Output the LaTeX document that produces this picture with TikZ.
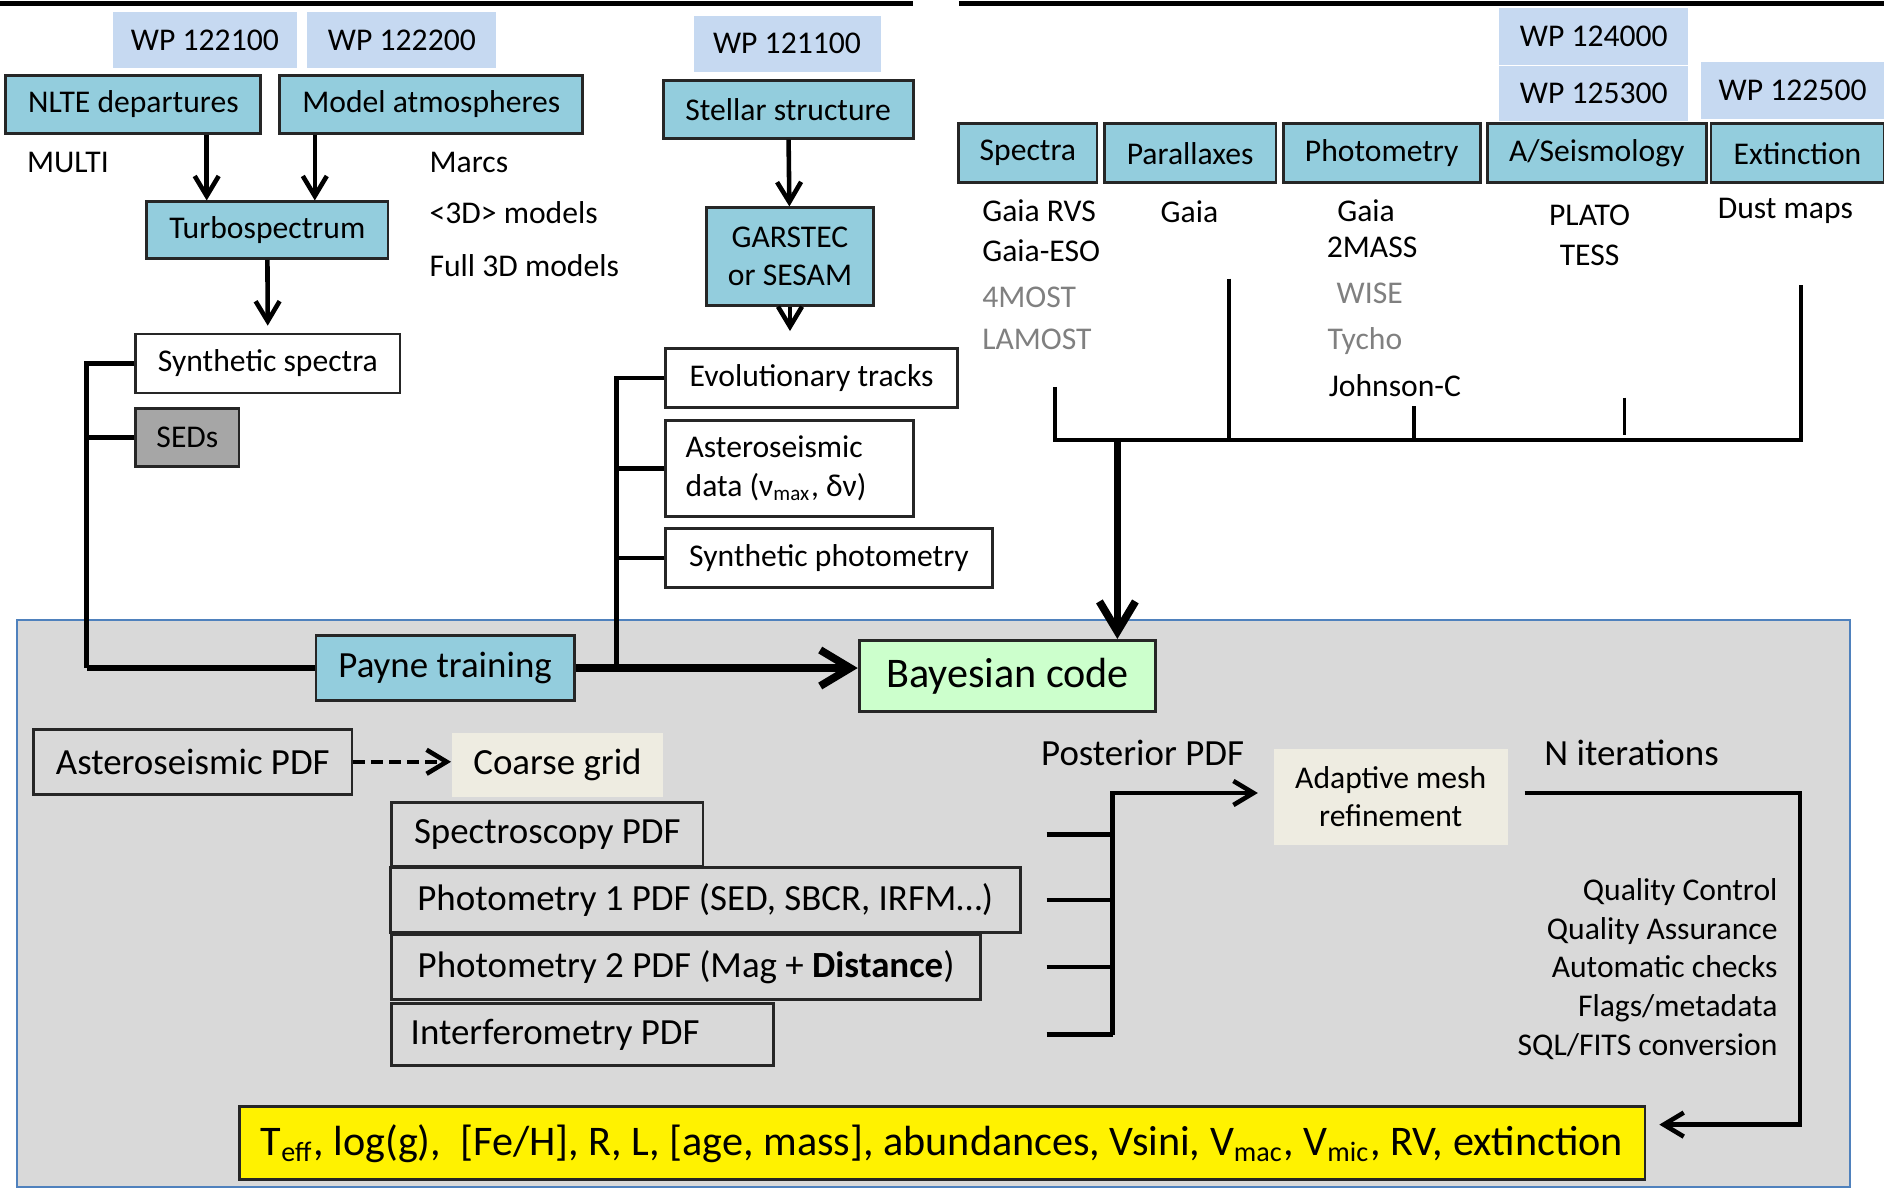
\documentclass[tikz,border=0pt]{standalone}
\usepackage{fontspec}
\setmainfont{Carlito}
\usetikzlibrary{arrows.meta}

\definecolor{wpazul}{HTML}{C6D9F1}
\definecolor{aqua}{HTML}{93CDDD}
\definecolor{gris}{HTML}{A6A6A6}
\definecolor{fondo}{HTML}{D9D9D9}
\definecolor{borde}{HTML}{4F81BD}
\definecolor{verde}{HTML}{CCFFCC}
\definecolor{crema}{HTML}{EEECE1}
\definecolor{textogris}{HTML}{808080}

\newcommand{\fchica}{\fontsize{9}{11}\selectfont}
\newcommand{\fmedia}{\fontsize{10.5}{12.6}\selectfont}
\newcommand{\fgrande}{\fontsize{12}{14.4}\selectfont}

\tikzset{
  wp/.style={fill=wpazul, inner sep=0pt, font=\fchica},
  caja/.style={draw=black!85, line width=0.8pt, inner sep=0pt, font=\fchica},
  azul/.style={caja, fill=aqua},
  blanca/.style={caja, fill=white},
  pdf/.style={caja, font=\fmedia},
  crem/.style={fill=crema, inner sep=0pt},
  etiq/.style={inner sep=0pt, font=\fchica},
  flecha/.style={line width=1.3pt, -{Straight Barb[length=2mm, width=2.4mm]}},
  gruesa/.style={line width=2.2pt, -{Straight Barb[length=3mm, width=3.6mm]}},
  linea/.style={line width=1.3pt},
}

\begin{document}
\begin{tikzpicture}
            \useasboundingbox (0,0) rectangle (18.84,-11.89);

            % Lineas superiores
            \draw[line width=1.4pt] (0,-0.036) -- (9.131,-0.036);
            \draw[line width=1.4pt] (9.588,-0.036) -- (18.84,-0.036);

            % Paquetes de trabajo (WP)
            \node[wp, minimum width=1.84cm, minimum height=0.565cm] (wp1) at (2.049,-0.402) {WP 122100};
            \node[wp, minimum width=1.89cm, minimum height=0.565cm] (wp2) at (4.019,-0.402) {WP 122200};
            \node[wp, minimum width=1.87cm, minimum height=0.565cm] (wp3) at (7.870,-0.438) {WP 121100};
            \node[wp, minimum width=1.89cm, minimum height=0.565cm] (wp4) at (15.938,-0.366) {WP 124000};
            \node[wp, minimum width=1.89cm, minimum height=0.553cm] (wp5) at (15.938,-0.937) {WP 125300};
            \node[wp, minimum width=1.83cm, minimum height=0.565cm] (wp6) at (17.926,-0.907) {WP 122500};

            % Modelos (izquierda)
            \node[azul, minimum width=2.55cm, minimum height=0.577cm] (nlte) at (1.334,-1.045) {NLTE departures};
            \node[azul, minimum width=3.03cm, minimum height=0.577cm] (modatm) at (4.313,-1.045) {Model atmospheres};
            \node[azul, minimum width=2.415cm, minimum height=0.565cm] (turbo) at (2.673,-2.301) {Turbospectrum};
            \node[blanca, minimum width=2.643cm, minimum height=0.589cm] (synspec) at (2.679,-3.635) {Synthetic spectra};
            \node[caja, fill=gris, minimum width=1.033cm, minimum height=0.577cm] (seds) at (1.874,-4.373) {SEDs};

            \node[etiq, anchor=mid west] (multi) at (0.264,-1.646) {MULTI};
            \node[etiq, anchor=mid west] (marcs) at (4.289,-1.646) {Marcs};
            \node[etiq, anchor=mid west] (m3d) at (4.289,-2.151) {<3D> models};
            \node[etiq, anchor=mid west] (full3d) at (4.289,-2.679) {Full 3D models};

            % Flechas hacia Turbospectrum
            \coordinate (t1) at (2.067,0);
            \coordinate (t2) at (3.148,0);
            \draw[flecha] (t1 |- nlte.south) -- (t1 |- turbo.north);
            \draw[flecha] (t2 |- modatm.south) -- (t2 |- turbo.north);
            \draw[flecha, shorten >=0.07cm] (turbo) -- (synspec);

            % Estructura estelar (centro)
            \node[azul, minimum width=2.50cm, minimum height=0.577cm] (stellar) at (7.882,-1.093) {Stellar structure};
            \node[azul, minimum width=1.67cm, minimum height=0.973cm, align=center] (garstec) at (7.900,-2.565) {GARSTEC\\or SESAM};
            \node[blanca, minimum width=2.920cm, minimum height=0.589cm] (evol) at (8.116,-3.779) {Evolutionary tracks};
            \node[blanca, inner xsep=0.2cm, text width=2.075cm, minimum height=0.961cm, align=flush left] (astdata) at (7.894,-4.686) {Asteroseismic\\data (ν\textsubscript{max}, δν)};
            \node[blanca, minimum width=3.268cm, minimum height=0.589cm] (synphot) at (8.290,-5.581) {Synthetic photometry};

            \draw[flecha] (stellar) -- (garstec);
            \draw[flecha, shorten >=0.16cm] (garstec) -- (garstec.south |- evol.north);

            % Observaciones (derecha)
            \node[azul, minimum width=1.382cm, minimum height=0.589cm] (spectra) at (10.279,-1.532) {Spectra};
            \node[azul, minimum width=1.718cm, minimum height=0.589cm] (parallax) at (11.901,-1.532) {Parallaxes};
            \node[azul, minimum width=1.970cm, minimum height=0.589cm] (photom) at (13.817,-1.532) {Photometry};
            \node[azul, minimum width=2.187cm, minimum height=0.589cm] (aseis) at (15.968,-1.532) {A/Seismology};
            \node[azul, minimum width=1.730cm, minimum height=0.589cm] (extinc) at (17.975,-1.532) {Extinction};

            \node[etiq, anchor=mid west] (gaiarvs) at (9.816,-2.127) {Gaia RVS};
            \node[etiq, anchor=mid west] (gaiaeso) at (9.816,-2.535) {Gaia-ESO};
            \node[etiq, anchor=mid west, text=textogris] (fourmost) at (9.816,-2.992) {4MOST};
            \node[etiq, anchor=mid west, text=textogris] (lamost) at (9.816,-3.412) {LAMOST};
            \node[etiq, anchor=mid] (gaiapar) at (11.895,-2.139) {Gaia};
            \node[etiq, anchor=mid] (gaiaph) at (13.661,-2.127) {Gaia};
            \node[etiq, anchor=mid] (twomass) at (13.721,-2.487) {2MASS};
            \node[etiq, anchor=mid, text=textogris] (wise) at (13.697,-2.956) {WISE};
            \node[etiq, anchor=mid, text=textogris] (tycho) at (13.649,-3.412) {Tycho};
            \node[etiq, anchor=mid] (johnson) at (13.949,-3.881) {Johnson-C};
            \node[etiq, anchor=mid] (plato) at (15.896,-2.175) {PLATO};
            \node[etiq, anchor=mid] (tess) at (15.896,-2.571) {TESS};
            \node[etiq, anchor=mid] (dust) at (17.854,-2.103) {Dust maps};

            % Peine de las observaciones
            \coordinate (rb1) at (10.549,-3.869);
            \coordinate (rb2) at (12.291,-2.787);
            \coordinate (rb3) at (14.142,-4.061);
            \coordinate (rb4) at (16.244,-3.977);
            \coordinate (rb5) at (18.010,-2.848);
            \coordinate (rbase) at (0,-4.397);
            \draw[line width=1.2pt] (rb1) |- (rb5 |- rbase) -- (rb5);
            \draw[line width=1pt] (rb2) -- (rb2 |- rbase);
            \draw[line width=1pt] (rb3) -- (rb3 |- rbase);
            \draw[line width=1pt] (rb4) -- ++(0,-0.37);

            % Panel gris inferior
            \draw[draw=borde, fill=fondo, line width=0.6pt] (0.168,-6.200) rectangle (18.503,-11.87);

            \node[azul, font=\fmedia, minimum width=2.583cm, minimum height=0.649cm] (payne) at (4.451,-6.680) {Payne training};
            \node[caja, fill=verde, font=\fgrande, minimum width=2.967cm, minimum height=0.709cm] (bayes) at (10.075,-6.758) {Bayesian code};

            % Corchetes hacia Payne y Bayesian code
            \coordinate (lb) at (0.865,0);
            \coordinate (mb) at (6.167,0);
            \draw[linea] (synspec.west) -| (lb |- payne.west);
            \draw[linea] (seds.west) -- (seds.west -| lb);
            \draw[line width=1.8pt] (lb |- payne.west) -- (payne.west);
            \draw[linea] (evol.west) -| (mb |- payne.east);
            \draw[linea] (astdata.west) -- (astdata.west -| mb);
            \draw[linea] (synphot.west) -- (synphot.west -| mb);
            \draw[gruesa] (payne.east) -- (payne.east -| bayes.west);
            \coordinate (rdown) at (11.174,-4.397);
            \draw[gruesa] (rdown) -- (rdown |- bayes.north);

            % Funciones de probabilidad
            \node[pdf, minimum width=3.184cm, minimum height=0.649cm] (astpdf) at (1.928,-7.618) {Asteroseismic PDF};
            \node[crem, font=\fmedia, minimum width=2.115cm, minimum height=0.637cm] (coarse) at (5.575,-7.648) {Coarse grid};
            \node[pdf, minimum width=3.112cm, minimum height=0.637cm] (specpdf) at (5.473,-8.345) {Spectroscopy PDF};
            \node[pdf, minimum width=6.296cm, minimum height=0.649cm] (phot1) at (7.053,-8.999) {Photometry 1 PDF (SED, SBCR, IRFM…)};
            \node[pdf, minimum width=5.887cm, minimum height=0.649cm] (phot2) at (6.861,-9.672) {Photometry 2 PDF (Mag + \textbf{Distance})};
            \node[pdf, inner xsep=0.19cm, text width=3.44cm, align=flush left, minimum height=0.625cm] (interf) at (5.827,-10.345) {Interferometry PDF};

            \draw[flecha, dashed, dash pattern=on 0.12cm off 0.06cm] (astpdf.east) -- (astpdf.east -| coarse.west);

            % Posterior y refinamiento
            \node[etiq, font=\fmedia, anchor=mid] (post) at (11.426,-7.569) {Posterior PDF};
            \node[crem, font=\fchica, align=center, minimum width=2.343cm, minimum height=0.961cm] (mesh) at (13.907,-7.966) {Adaptive mesh\\refinement};
            \node[etiq, font=\fmedia, anchor=mid] (niter) at (16.316,-7.569) {N iterations};
            \node[etiq, align=right, anchor=east] (qc) at (17.782,-9.690) {Quality Control\\Quality Assurance\\Automatic checks\\Flags/metadata\\SQL/FITS conversion};

            \coordinate (pb) at (11.126,-7.930);
            \coordinate (tk) at (10.465,0);
            \foreach \n in {specpdf,phot1,phot2,interf}
                \draw[linea] (\n -| tk) -- (\n -| pb);
            \draw[flecha, shorten >=0.15cm] (interf -| pb) -- (pb) -- (pb -| mesh.west);

            % Resultado final
            \node[caja, fill=yellow, font=\fgrande, minimum width=14.058cm, minimum height=0.733cm] (result) at (9.420,-11.432) {T\textsubscript{eff}, log(g),~ [Fe/H], R, L, [age, mass], abundances, Vsini, V\textsubscript{mac}, V\textsubscript{mic}, RV, extinction};

            \coordinate (lp) at (17.998,-11.246);
            \draw[flecha, shorten <=0.16cm, shorten >=0.13cm] (mesh.east |- pb) -| (lp) -- (lp -| result.east);

        \end{tikzpicture}
\end{document}
